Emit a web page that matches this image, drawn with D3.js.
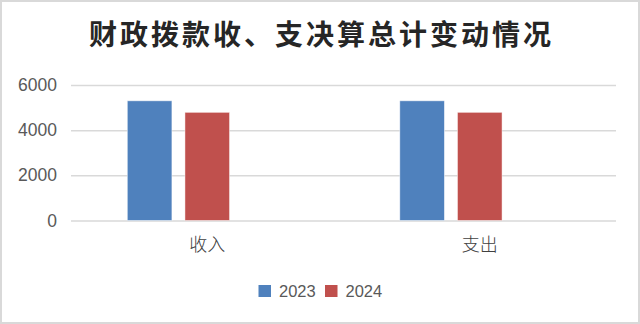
<!DOCTYPE html>
<html>
<head>
<meta charset="utf-8">
<script src="https://cdn.jsdelivr.net/npm/d3@7"></script>
<style>
  html, body { margin: 0; padding: 0; background: #fff; }
  svg { display: block; }
</style>
</head>
<body>
<svg></svg>
<script>
const categories = ["收入", "支出"];
const seriesNames = ["2023", "2024"];
const values2023 = [5300, 5300];
const values2024 = [4790, 4790];
const yTicks = [0, 2000, 4000, 6000];
const titleText = "财政拨款收、支决算总计变动情况";

const colors = ["#4f81bd", "#c0504d"];
const svgWidth = 640;
const svgHeight = 324;
const plotLeft = 71;
const plotRight = 616;

const svg = d3.select("svg")
	.attr("width", svgWidth)
	.attr("height", svgHeight);

// frame
svg.append("rect")
	.attr("x", 1).attr("y", 1)
	.attr("width", svgWidth - 2).attr("height", svgHeight - 2)
	.attr("fill", "#fff")
	.attr("stroke", "#d9d9d9")
	.attr("stroke-width", 2);

// Title
svg.append("text")
	.text(titleText)
	.attr("x", 320)
	.attr("y", 45)
	.attr("text-anchor", "middle")
	.attr("textLength", 462)
	.attr("lengthAdjust", "spacing")
	.attr("font-family", "'Noto Sans CJK SC', sans-serif")
	.attr("font-weight", "bold")
	.attr("font-size", "28px")
	.attr("fill", "#262626");

const yScale = d3.scaleLinear()
	.domain([0, 6000])
	.range([220.5, 85]);

const x0 = d3.scaleBand()
	.domain(categories)
	.range([plotLeft, plotRight])
	.padding(0);

// three slots per group (the third one stays empty, as in the original)
const bw = x0.bandwidth();
const x1 = d3.scaleBand()
	.domain(["2023", "2024", "_"])
	.range([bw * 0.2066, bw * 0.7934])
	.paddingInner(0.226)
	.paddingOuter(0);

// gridlines
const yAxis = d3.axisLeft(yScale)
	.tickValues(yTicks)
	.tickSize(-(plotRight - plotLeft))
	.tickPadding(14)
	.tickFormat(d3.format("d"));

const gy = svg.append("g")
	.attr("transform", `translate(${plotLeft}, 0)`)
	.call(yAxis);
gy.select(".domain").remove();
gy.selectAll(".tick line")
	.attr("stroke", "#d9d9d9")
	.attr("stroke-width", 1.5);
gy.selectAll(".tick text")
	.attr("font-family", "'Liberation Sans', Arial, sans-serif")
	.attr("font-size", "17.5px")
	.attr("fill", "#595959");

// Data bars
const tableData = categories.map((c, i) => ({ cat: c, vals: [values2023[i], values2024[i]] }));

const groups = svg.selectAll("g.grp")
	.data(tableData)
	.enter()
	.append("g")
		.attr("class", "grp")
		.attr("transform", d => `translate(${x0(d.cat)}, 0)`);

groups.selectAll("rect")
	.data(d => d.vals.map((v, j) => ({ key: seriesNames[j], v: v, j: j })))
	.enter()
	.append("rect")
		.attr("x", d => x1(d.key))
		.attr("y", d => yScale(d.v))
		.attr("width", x1.bandwidth())
		.attr("height", d => yScale(0) - yScale(d.v))
		.attr("fill", d => colors[d.j])
		.attr("stroke", "#ffffff")
		.attr("stroke-opacity", 0.6)
		.attr("stroke-width", 0.8);

// Category labels
svg.append("g")
	.selectAll("text")
	.data(categories)
	.enter()
	.append("text")
		.text(d => d)
		.attr("x", d => x0(d) + bw / 2)
		.attr("y", 251)
		.attr("text-anchor", "middle")
		.attr("font-family", "'Noto Sans CJK SC', sans-serif")
		.attr("font-weight", 300)
		.attr("font-size", "18px")
		.attr("fill", "#404040");

// Legend
const legendX = [258.5, 325];
const legend = svg.append("g")
	.selectAll("g")
	.data(seriesNames)
	.enter()
	.append("g")
		.attr("transform", (d, i) => `translate(${legendX[i]}, 285)`);

legend.append("rect")
	.attr("width", 12.5)
	.attr("height", 12)
	.attr("fill", (d, i) => colors[i]);

legend.append("text")
	.text(d => d)
	.attr("x", 20.5)
	.attr("y", 12)
	.attr("font-family", "'Liberation Sans', Arial, sans-serif")
	.attr("font-size", "16.5px")
	.attr("fill", "#595959");
</script>
</body>
</html>
